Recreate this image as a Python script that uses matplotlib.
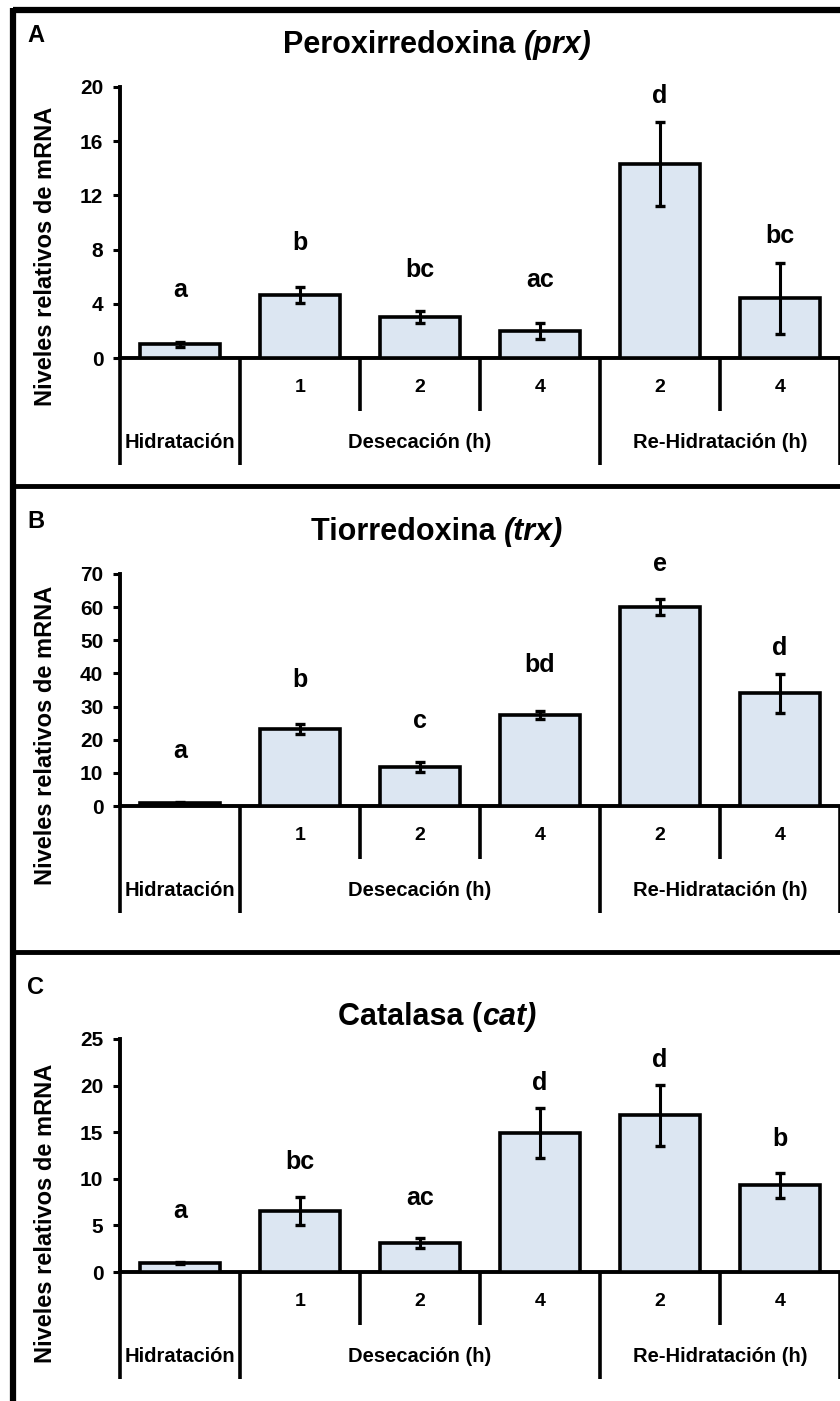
import matplotlib.pyplot as plt
import matplotlib.transforms as mtransforms
from matplotlib.lines import Line2D

plt.rcParams["font.family"] = ["Liberation Sans", "DejaVu Sans"]
plt.rcParams["font.weight"] = "bold"

W, H = 840, 1401

tick_labels = ["", "1", "2", "4", "2", "4"]
groups = ["Hidratación", "Desecación (h)", "Re-Hidratación (h)"]
group_spans = [(0, 0), (1, 3), (4, 5)]

prx_mean = [1.0, 4.65, 3.0, 2.0, 14.3, 4.4]
prx_err = [0.2, 0.6, 0.45, 0.6, 3.1, 2.6]
prx_sig = ["a", "b", "bc", "ac", "d", "bc"]
prx_sig_y = [4.5, 8.0, 6.0, 5.25, 18.8, 8.5]

trx_mean = [1.0, 23.2, 11.8, 27.5, 60.1, 34.0]
trx_err = [0.3, 1.5, 1.5, 1.2, 2.5, 5.9]
trx_sig = ["a", "b", "c", "bd", "e", "d"]
trx_sig_y = [14.5, 35.9, 23.5, 40.4, 70.9, 45.6]

cat_mean = [1.0, 6.5, 3.1, 14.9, 16.8, 9.3]
cat_err = [0.1, 1.5, 0.5, 2.65, 3.3, 1.35]
cat_sig = ["a", "bc", "ac", "d", "d", "b"]
cat_sig_y = [5.8, 11.05, 7.2, 19.5, 22.0, 13.5]

FILL = "#DCE6F2"

# letter, title (upright part, italic part), values, ymax, ystep,
# (zero px, top px), title y, letter y, ylabel y
panels = [
    ("A", ("Peroxirredoxina ", "(prx)"), prx_mean, prx_err, prx_sig, prx_sig_y,
     20, 4, (358, 87), 45, 35, 256),
    ("B", ("Tiorredoxina ", "(trx)"), trx_mean, trx_err, trx_sig, trx_sig_y,
     70, 10, (806, 574), 532, 522, 735),
    ("C", ("Catalasa (", "cat)"), cat_mean, cat_err, cat_sig, cat_sig_y,
     25, 5, (1272, 1039), 1017, 988, 1213),
]

fig = plt.figure(figsize=(W / 100, H / 100), dpi=100)
# pixel coords, origin top-left
px = mtransforms.Affine2D().scale(1 / W, -1 / H).translate(0, 1) + fig.transFigure


def fig_line(xs, ys, lw):
    fig.add_artist(Line2D(xs, ys, transform=px, color="black", lw=lw,
                          solid_capstyle="butt"))


# frame around the panels
fig_line([13, W], [10, 10], 4.5)
fig_line([13, W], [486, 486], 3.5)
fig_line([13, W], [952, 952], 3.5)
fig_line([13, 13], [8, H], 4.5)

titles = []
for (letter, (t_up, t_it), mean, err, sig, sig_y, ymax, ystep,
     (y0, y1), title_y, letter_y, ylab_y) in panels:
    hpx = y0 - y1
    ax = fig.add_axes([120 / W, 1 - y0 / H, 720 / W, hpx / H])
    x = list(range(len(mean)))
    ax.bar(x, mean, width=0.67, color=FILL, edgecolor="black", linewidth=2.6,
           yerr=err, zorder=3,
           error_kw=dict(ecolor="black", elinewidth=2.2, capsize=3.5, capthick=2.4))
    for xi, s, sy in zip(x, sig, sig_y):
        ax.text(xi, sy, s, ha="center", va="baseline", fontsize=18, fontweight="bold")

    ax.set_xlim(-0.5, len(mean) - 0.5)
    ax.set_ylim(0, ymax)
    ax.set_yticks(range(0, ymax + 1, ystep))
    ax.set_xticks(x, tick_labels)
    ax.tick_params(axis="x", length=0, pad=15, labelsize=14)
    ax.tick_params(axis="y", direction="out", length=5, width=2.2, pad=7, labelsize=15)
    for side in ("top", "right"):
        ax.spines[side].set_visible(False)
    for side in ("left", "bottom"):
        ax.spines[side].set_linewidth(2.8)
    ax.patch.set_alpha(0)

    # group dividers below the axis
    trans = ax.get_xaxis_transform()
    long_drop = -107 / hpx
    short_drop = -53 / hpx
    bounds = [-0.5] + [b + 0.5 for _, b in group_spans]
    for b in bounds:
        ax.plot([b, b], [0, long_drop], transform=trans, color="black", lw=2.6,
                clip_on=False, solid_capstyle="butt")
    for a, b in group_spans:
        for k in range(a, b):
            ax.plot([k + 0.5, k + 0.5], [0, short_drop], transform=trans, color="black",
                    lw=2.6, clip_on=False, solid_capstyle="butt")
    for g, (a, b) in zip(groups, group_spans):
        ax.annotate(g, xy=((a + b) / 2, 0), xycoords=trans, xytext=(0, -85),
                    textcoords="offset pixels", ha="center", va="center",
                    fontsize=14.5, fontweight="bold")

    t1 = fig.text(0, 1 - title_y / H, t_up, ha="left", va="center",
                  fontsize=22, fontweight="bold")
    t2 = fig.text(0, 1 - title_y / H, t_it, ha="left", va="center",
                  fontsize=22, fontweight="bold", style="italic")
    titles.append((t1, t2))
    fig.text(36 / W, 1 - letter_y / H, letter, ha="center", va="center",
             fontsize=17, fontweight="bold")
    fig.text(46 / W, 1 - ylab_y / H, "Niveles relativos de mRNA", rotation=90,
             ha="center", va="center", fontsize=17, fontweight="bold")

# center each two-part title around x = 437 px
fig.canvas.draw()
r = fig.canvas.get_renderer()
for t1, t2 in titles:
    w1 = t1.get_window_extent(r).width
    w2 = t2.get_window_extent(r).width
    left = 437 - (w1 + w2) / 2
    t1.set_x(left / W)
    t2.set_x((left + w1) / W)

fig.savefig("out.png", dpi=100)
